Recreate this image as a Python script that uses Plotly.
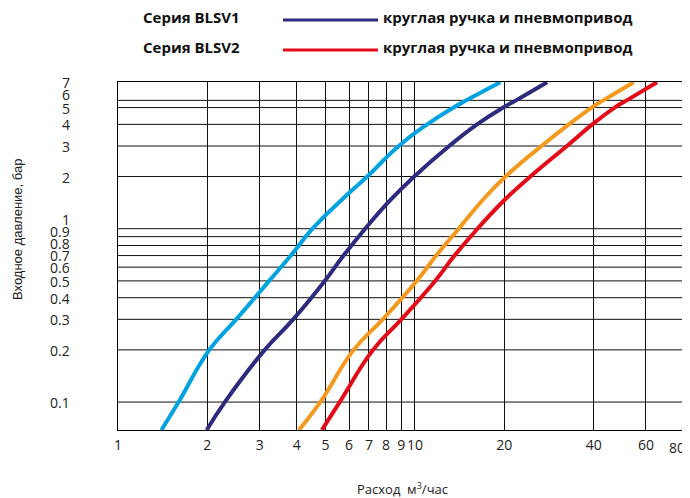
import math
import plotly.graph_objects as go

# ---------------- data (flow m3/h vs inlet pressure bar) ----------------
P_LEVELS = [0.069, 0.1, 0.2, 0.3, 0.5, 0.7, 1.0, 1.46, 2.0, 3.0, 4.0, 5.0, 5.5, 7.0]

LB_Q = [1.40, 1.60, 2.03, 2.50, 3.23, 3.82, 4.52, 5.65, 6.91, 8.82, 11.0, 13.5, 14.9, 19.4]
NV_Q = [1.99, 2.29, 3.12, 3.89, 4.97, 5.75, 6.80, 8.26, 9.95, 13.05, 16.2, 19.85, 21.9, 27.9]
OR_Q = [4.07, 4.80, 6.22, 7.79, 10.14, 11.8, 14.05, 16.9, 20.2, 26.7, 33.0, 39.4, 43.1, 54.6]
RD_Q = [4.86, 5.58, 7.23, 9.00, 11.7, 13.6, 16.25, 20.0, 24.5, 32.5, 39.6, 47.1, 51.7, 65.4]

LB_P = P_LEVELS
NV_P = P_LEVELS
OR_P = P_LEVELS
RD_P = P_LEVELS

X_TICKS = [1, 2, 3, 4, 5, 6, 7, 8, 9, 10, 20, 40, 60, 80]
Y_TICKS = [0.1, 0.2, 0.3, 0.4, 0.5, 0.6, 0.7, 0.8, 0.9, 1, 2, 3, 4, 5, 6, 7]
Y_TICK_TEXT = ["0.1", "0.2", "0.3", "0.4", "0.5", "0.6", "0.7", "0.8", "0.9",
               "1", "2", "3", "4", "5", "6", "7"]
Y_GRID = [0.1, 0.2, 0.3, 0.4, 0.5, 0.6, 0.7, 0.8, 0.9, 1, 2, 3, 4, 5, 5.5]
X_RANGE = [1, 80]
Y_RANGE = [0.069, 7.02]

SERIES_LABELS = ["Серия BLSV1", "Серия BLSV2"]
LEGEND_TEXT = ["круглая ручка и пневмопривод", "круглая ручка и пневмопривод"]
X_TITLE = "Расход  м<sup>3</sup>/час"
Y_TITLE = "Входное давление, бар"

C_LB, C_NV, C_OR, C_RD = "#00A3E0", "#2E2A7E", "#F39A1E", "#E30B17"

# page body has an 8px margin: the figure starts 8px in from the window's corner
OFF = 8
W, H = 690, 490
M_L, M_R, M_T, M_B = 110, 15, 74, 68
PW, PH = W - M_L - M_R, H - M_T - M_B


def px_x(sx):
    return (sx - OFF - M_L) / PW


def px_y(sy):
    return (H - M_B - (sy - OFF)) / PH


fig = go.Figure()

# horizontal grid lines
gx, gy = [], []
for v in Y_GRID:
    gx += [X_RANGE[0], X_RANGE[1], None]
    gy += [v, v, None]
fig.add_trace(go.Scatter(x=gx, y=gy, mode="lines", line=dict(color="#111111", width=1),
                         hoverinfo="skip", showlegend=False))

for q, p, c in [(LB_Q, LB_P, C_LB), (NV_Q, NV_P, C_NV), (OR_Q, OR_P, C_OR), (RD_Q, RD_P, C_RD)]:
    fig.add_trace(go.Scatter(x=q, y=p, mode="lines",
                             line=dict(color=c, width=4, shape="spline", smoothing=1.3),
                             hoverinfo="x+y", showlegend=False))

TICK_FONT = dict(family="Open Sans, sans-serif", size=14, color="#222222")

# last x tick label sits at the window edge, so it is drawn as a nudged annotation
x_text = [str(t) for t in X_TICKS[:-1]] + [""]

fig.update_xaxes(type="log", range=[math.log10(X_RANGE[0]), math.log10(X_RANGE[1])],
                 tickvals=X_TICKS, ticktext=x_text, tickangle=0,
                 ticklabeloverflow="allow",
                 showgrid=True, gridcolor="#111111", gridwidth=1,
                 showline=True, linecolor="#000000", linewidth=1, mirror=True,
                 ticks="", ticklabelstandoff=2, zeroline=False, automargin=False,
                 tickfont=TICK_FONT)
fig.update_yaxes(type="log", range=[math.log10(Y_RANGE[0]), math.log10(Y_RANGE[1])],
                 showgrid=False, showticklabels=False, ticks="", automargin=False,
                 showline=True, linecolor="#000000", linewidth=1, mirror=True, zeroline=False)

ann = []
ann.append(dict(x=math.log10(X_TICKS[-1]), xref="x", y=px_y(447.5), yref="paper",
                text=str(X_TICKS[-1]), showarrow=False, xanchor="center", yanchor="middle",
                xshift=-6, font=TICK_FONT))

# y tick labels (spread apart where they would collide)
ylo, yhi = math.log10(Y_RANGE[0]), math.log10(Y_RANGE[1])
gap = 12.0 / PH * (yhi - ylo)
pos = []
for v in Y_TICKS:
    lv = math.log10(v)
    if pos and lv < pos[-1] + gap:
        lv = pos[-1] + gap
    pos.append(lv)
for lv, t in zip(pos, Y_TICK_TEXT):
    ann.append(dict(x=0, xref="paper", y=(lv - ylo) / (yhi - ylo), yref="paper", text=t,
                    showarrow=False, xanchor="right", yanchor="middle", xshift=-46, height=12,
                    font=TICK_FONT))

# axis titles
ann.append(dict(x=px_x(402), xref="paper", y=px_y(488), yref="paper",
                text=X_TITLE, showarrow=False, xanchor="center", yanchor="middle",
                font=dict(family="Open Sans, sans-serif", size=13, color="#222222")))
ann.append(dict(x=px_x(17), xref="paper", y=px_y(230), yref="paper",
                text=Y_TITLE, showarrow=False, textangle=-90, xanchor="center", yanchor="middle",
                font=dict(family="Liberation Sans, Arial, sans-serif", size=13, color="#222222")))

# custom legend
shapes = []
for i, (lab, txt, col) in enumerate(zip(SERIES_LABELS, LEGEND_TEXT, [C_NV, C_RD])):
    ty = 17 + 30 * i
    ann.append(dict(x=px_x(141), xref="paper", y=px_y(ty), yref="paper",
                    text="<b>%s</b>" % lab, showarrow=False, xanchor="left", yanchor="middle",
                    font=dict(family="Open Sans, sans-serif", size=15, color="#111111")))
    ann.append(dict(x=px_x(381), xref="paper", y=px_y(ty), yref="paper",
                    text="<b>%s</b>" % txt, showarrow=False, xanchor="left", yanchor="middle",
                    font=dict(family="Open Sans, sans-serif", size=15, color="#111111")))
    shapes.append(dict(type="line", xref="paper", yref="paper",
                       x0=px_x(283), x1=px_x(378), y0=px_y(ty + 3), y1=px_y(ty + 3),
                       line=dict(color=col, width=3)))

fig.update_layout(width=W, height=H, margin=dict(l=M_L, r=M_R, t=M_T, b=M_B, autoexpand=False),
                  plot_bgcolor="white", paper_bgcolor="white",
                  annotations=ann, shapes=shapes, showlegend=False)

fig.write_html("out.html")
